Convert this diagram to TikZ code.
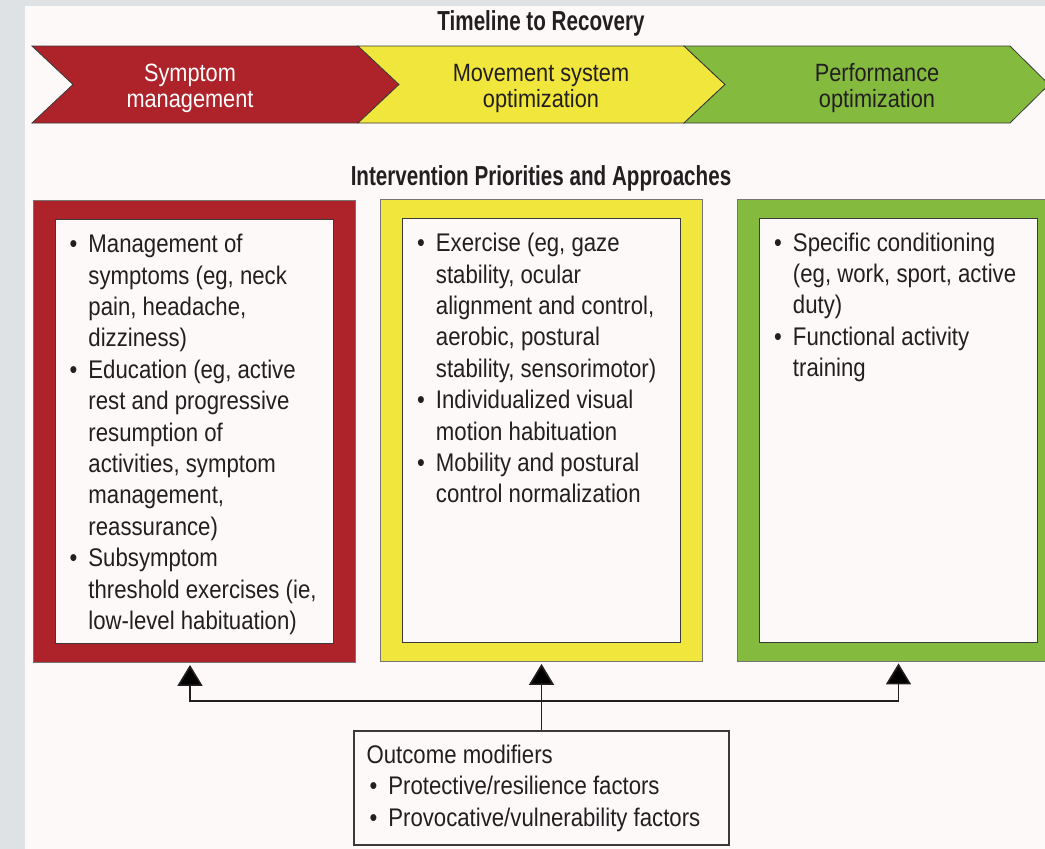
\documentclass[tikz,border=0pt]{standalone}
\usepackage{fontspec}
\setmainfont{Liberation Sans}[FakeStretch=0.87]
\newfontfamily\headfont{Liberation Sans}[FakeStretch=0.75]
\usetikzlibrary{arrows.meta,positioning}

\definecolor{frame}{HTML}{DEE2E5}
\definecolor{paper}{HTML}{FDF9F9}
\definecolor{ink}{HTML}{231F20}
\definecolor{edge}{HTML}{3A3A3A}
\definecolor{phasered}{HTML}{AE2329}
\definecolor{phaseyellow}{HTML}{F1E63B}
\definecolor{phasegreen}{HTML}{84BA3E}

\newcommand{\bodyfont}{\fontsize{25.5}{31.4}\selectfont}
\newcommand{\stagefont}{\fontsize{25}{26}\selectfont}
\newcommand{\titlefont}{\headfont\bfseries\fontsize{27.5}{33}\selectfont}
\newcommand{\bul}{\textbullet}

\tikzset{
  chevron/.style={draw=edge, line width=0.8pt, line join=miter},
  stagelabel/.style={align=center, inner sep=0pt, font=\stagefont},
  title/.style={anchor=base, inner sep=0pt, font=\titlefont, text=ink},
  stagebox/.style={draw=edge!70, line width=0.8pt, minimum width=322pt, minimum height=462pt, inner sep=0pt},
  panel/.style={draw=edge, fill=paper, line width=1pt, minimum width=278pt, minimum height=424pt, inner sep=0pt},
  points/.style={anchor=north west, inner sep=0pt, font=\bodyfont, text=ink},
  tip/.style={-{Triangle[width=25pt,length=21pt,fill=black]}, line width=1.6pt, draw=ink, shorten >=2pt}
}

\begin{document}
\begin{tikzpicture}[x=1pt, y=-1pt]
\useasboundingbox (0,0) rectangle (1045,849);
\fill[frame] (0,0) rectangle (1045,849);
\fill[paper] (25,6) rectangle (1045,849);

% timeline band
\node[title] (timeline) at (541,30) {Timeline to Recovery};
\filldraw[chevron, fill=phasered] (32,46) -- (358,46) -- (399,84.5) -- (358,123) -- (32,123) -- (73,84.5) -- cycle;
\filldraw[chevron, fill=phaseyellow] (358,46) -- (684,46) -- (725,84.5) -- (684,123) -- (358,123) -- (399,84.5) -- cycle;
\filldraw[chevron, fill=phasegreen] (684,46) -- (1010,46) -- (1049,84.5) -- (1010,123) -- (684,123) -- (725,84.5) -- cycle;
\node[stagelabel, text=white] (symlabel) at (190,88) {Symptom\\management};
\node[stagelabel, text=ink] (movlabel) at (541,88) {Movement system\\optimization};
\node[stagelabel, text=ink] (perflabel) at (877,88) {Performance\\optimization};

% intervention boxes
\node[title] (approaches) at (541,185) {Intervention Priorities and Approaches};

\node[stagebox, fill=phasered] (symout) at (194,431.5) {};
\node[panel] (symin) at (symout.center) {};
\node[points] (symtext) at ([xshift=15pt,yshift=-11.5pt]symin.north west) {%
\begin{tabular}{@{}l@{\hspace{11pt}}l@{}}
\bul & Management of\\
 & symptoms (eg, neck\\
 & pain, headache,\\
 & dizziness)\\
\bul & Education (eg, active\\
 & rest and progressive\\
 & resumption of\\
 & activities, symptom\\
 & management,\\
 & reassurance)\\
\bul & Subsymptom\\
 & threshold exercises (ie,\\
 & low-level habituation)
\end{tabular}};

\node[stagebox, fill=phaseyellow] (movout) at (541.5,430.5) {};
\node[panel] (movin) at (movout.center) {};
\node[points] (movtext) at ([xshift=15pt,yshift=-11.5pt]movin.north west) {%
\begin{tabular}{@{}l@{\hspace{11pt}}l@{}}
\bul & Exercise (eg, gaze\\
 & stability, ocular\\
 & alignment and control,\\
 & aerobic, postural\\
 & stability, sensorimotor)\\
\bul & Individualized visual\\
 & motion habituation\\
\bul & Mobility and postural\\
 & control normalization
\end{tabular}};

\node[stagebox, fill=phasegreen] (perfout) at (898.5,430) {};
\node[panel] (perfin) at (perfout.center) {};
\node[points] (perftext) at ([xshift=15pt,yshift=-11.5pt]perfin.north west) {%
\begin{tabular}{@{}l@{\hspace{11pt}}l@{}}
\bul & Specific conditioning\\
 & (eg, work, sport, active\\
 & duty)\\
\bul & Functional activity\\
 & training
\end{tabular}};

% outcome modifiers feeding all three stages
\node[draw=edge, line width=1.2pt, fill=paper, minimum width=375pt, minimum height=114pt, inner sep=0pt] (modifiers) at (541.5,788) {};
\node[points] (modtext) at ([xshift=13pt,yshift=-11pt]modifiers.north west) {%
\begin{tabular}{@{\hspace{3pt}}l@{\hspace{11pt}}l@{}}
\multicolumn{2}{@{}l@{}}{Outcome modifiers}\\
\bul & Protective/resilience factors\\
\bul & Provocative/vulnerability factors
\end{tabular}};

\coordinate (hub) at (modifiers.north |- 0,701);
\draw[tip] (modifiers.north) -- (movout.south);
\draw[tip] (hub) -| ([xshift=-4pt]symout.south);
\draw[tip] (hub) -| (perfout.south);
\end{tikzpicture}
\end{document}
